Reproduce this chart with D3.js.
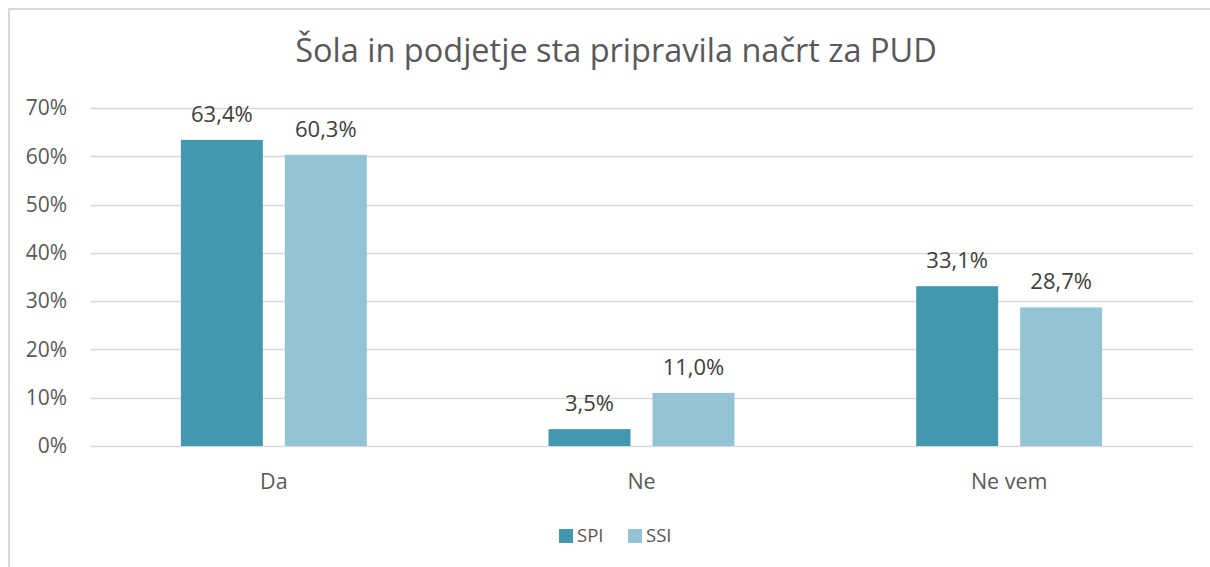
<!DOCTYPE html>
<html>
<head>
<meta charset="utf-8">
<script src="https://cdn.jsdelivr.net/npm/d3@7"></script>
<style>
  html, body { margin: 0; padding: 0; background: #fff; }
  svg { display: block; font-family: "Open Sans", sans-serif; }
</style>
</head>
<body>
<div id="chart"></div>
<script>
// categories and series
const categories = ["Da", "Ne", "Ne vem"];
const seriesNames = ["SPI", "SSI"];
const spiValues = [0.634, 0.035, 0.331];
const ssiValues = [0.603, 0.110, 0.287];
const yTicks = [0, 0.1, 0.2, 0.3, 0.4, 0.5, 0.6, 0.7];
const title = "Šola in podjetje sta pripravila načrt za PUD";

const colors = { SPI: "#4398b0", SSI: "#93c3d4" };
const textCol = "#595959";

const W = 1210, H = 567;
const svg = d3.select("#chart").append("svg")
  .attr("width", W).attr("height", H);

// chart frame (right and bottom edges are cut off in the source)
svg.append("path")
  .attr("d", `M9,${H} L9,9 L${W},9`)
  .attr("fill", "none")
  .attr("stroke", "#d9d9d9")
  .attr("stroke-width", 2);

svg.append("text")
  .attr("x", 616).attr("y", 62)
  .attr("text-anchor", "middle")
  .attr("font-size", 32.5)
  .attr("fill", textCol)
  .text(title);

const x = d3.scaleBand().domain(categories).range([90, 1193]);
const xSub = d3.scaleBand().domain(seriesNames)
  .range([0, x.bandwidth()])
  .paddingInner(0.2115).paddingOuter(0.874);
const y = d3.scaleLinear().domain([0, 0.7]).range([446, 108]);

// gridlines
svg.append("g")
  .selectAll("line")
  .data(yTicks)
  .join("line")
  .attr("x1", 90).attr("x2", 1193)
  .attr("y1", d => Math.round(y(d)) + 0.5)
  .attr("y2", d => Math.round(y(d)) + 0.5)
  .attr("stroke", "#d9d9d9")
  .attr("stroke-width", 1.5);

// y axis labels
const yAxis = d3.axisLeft(y).tickValues(yTicks)
  .tickFormat(d3.format(".0%")).tickSize(0).tickPadding(0);
svg.append("g")
  .attr("transform", "translate(67,0)")
  .call(yAxis)
  .attr("font-family", null)
  .attr("font-size", 21)
  .call(g => g.select(".domain").remove())
  .call(g => g.selectAll("text").attr("fill", textCol));

// x axis labels
const xAxis = d3.axisBottom(x).tickSize(0).tickPadding(0);
svg.append("g")
  .attr("transform", "translate(0,474)")
  .call(xAxis)
  .attr("font-family", null)
  .attr("font-size", 21.5)
  .call(g => g.select(".domain").remove())
  .call(g => g.selectAll("text").attr("fill", textCol));

const rows = categories.map((c, i) => ({
  cat: c,
  vals: [{ s: "SPI", v: spiValues[i] }, { s: "SSI", v: ssiValues[i] }]
}));

const fmt = v => d3.format(".1f")(v * 100).replace(".", ",") + "%";

const groups = svg.append("g")
  .selectAll("g")
  .data(rows)
  .join("g")
  .attr("transform", d => `translate(${x(d.cat)},0)`);

groups.selectAll("rect")
  .data(d => d.vals)
  .join("rect")
  .attr("x", d => xSub(d.s))
  .attr("width", xSub.bandwidth())
  .attr("y", d => y(d.v))
  .attr("height", d => y(0) - y(d.v))
  .attr("fill", d => colors[d.s]);

groups.selectAll("text")
  .data(d => d.vals)
  .join("text")
  .attr("x", d => xSub(d.s) + xSub.bandwidth() / 2)
  .attr("y", d => y(d.v) - 18)
  .attr("text-anchor", "middle")
  .attr("font-size", 22)
  .attr("fill", "#404040")
  .text(d => fmt(d.v));

// legend
const legend = svg.append("g").attr("transform", "translate(559,529)");
const items = legend.selectAll("g")
  .data(seriesNames)
  .join("g")
  .attr("transform", (d, i) => `translate(${i * 69},0)`);
items.append("rect")
  .attr("width", 14).attr("height", 14)
  .attr("fill", d => colors[d]);
items.append("text")
  .attr("x", 18).attr("y", 13)
  .attr("font-size", 18.5)
  .attr("fill", textCol)
  .text(d => d);
</script>
</body>
</html>
